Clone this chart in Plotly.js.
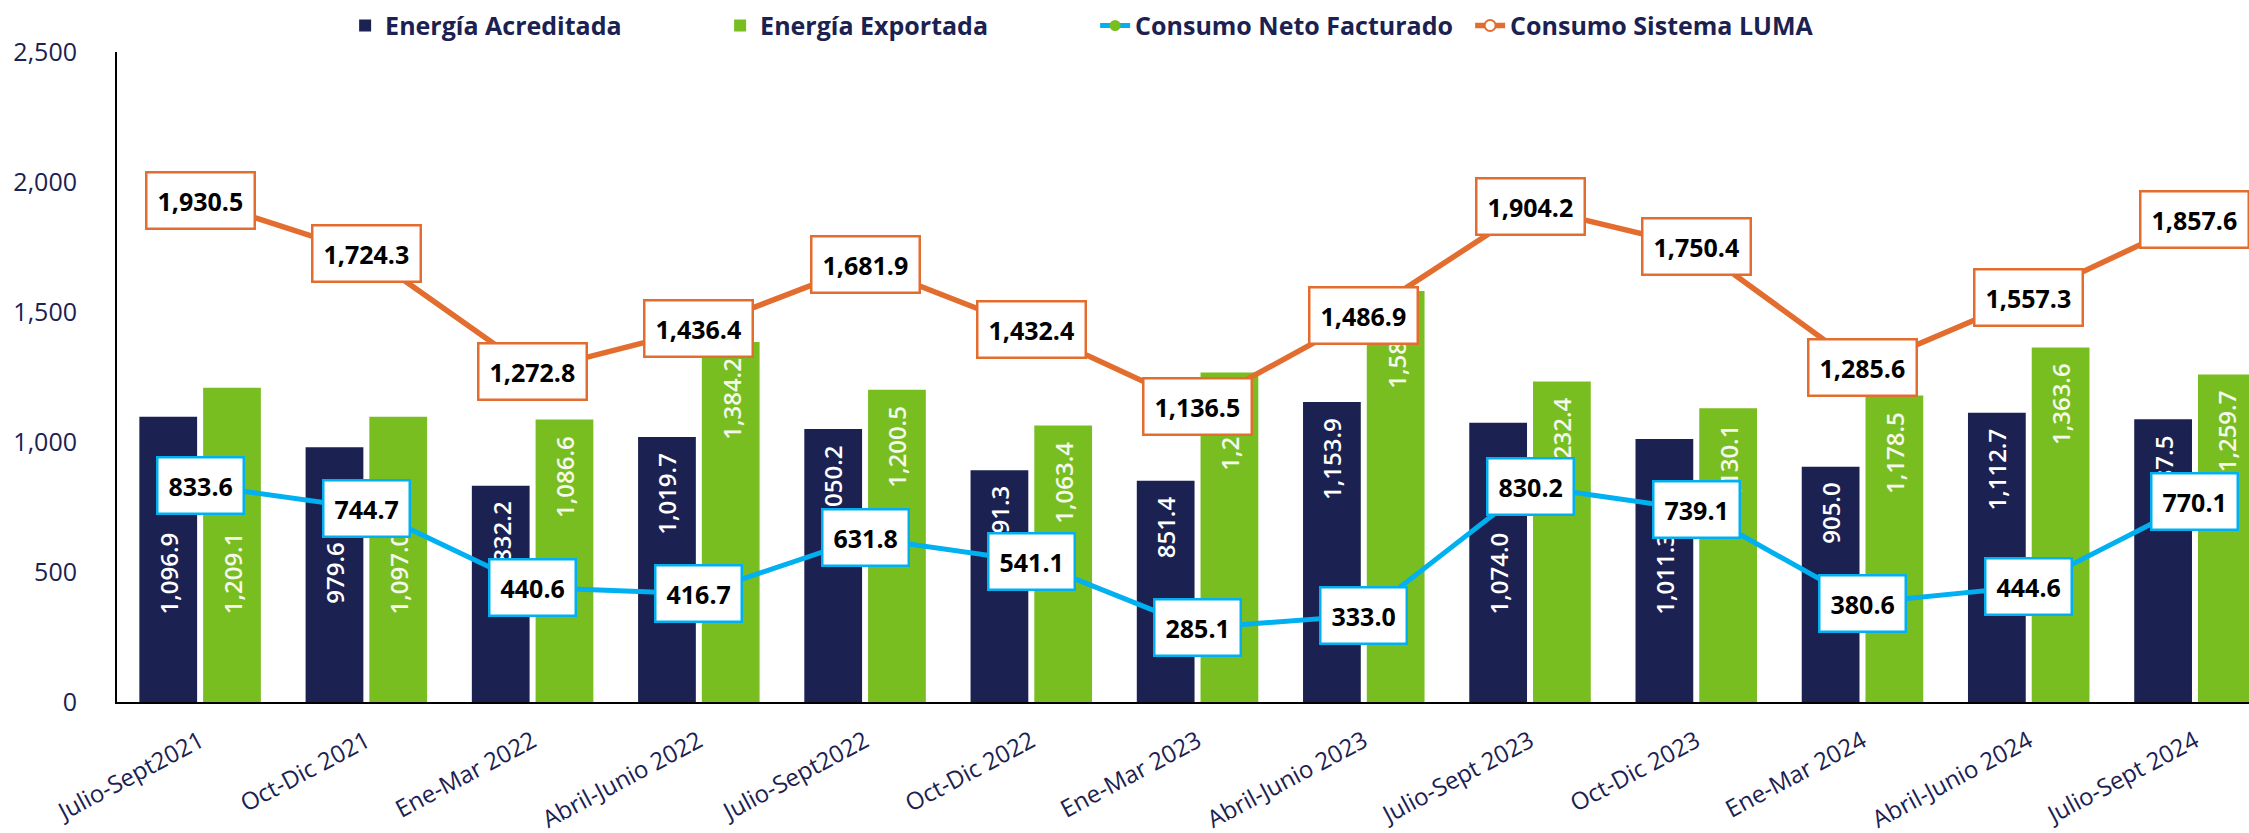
<!DOCTYPE html>
<html><head><meta charset="utf-8">
<script src="https://cdn.plot.ly/plotly-3.0.1.min.js"></script>
<style>html,body{margin:0;padding:0;background:#fff}#chart{width:2249px;height:833px}</style>
</head><body><div id="chart"></div>
<script>
const categories = ['Julio-Sept2021','Oct-Dic 2021','Ene-Mar 2022','Abril-Junio 2022','Julio-Sept2022','Oct-Dic 2022','Ene-Mar 2023','Abril-Junio 2023','Julio-Sept 2023','Oct-Dic 2023','Ene-Mar 2024','Abril-Junio 2024','Julio-Sept 2024'];
const energiaAcreditada = [1096.9, 979.6, 832.2, 1019.7, 1050.2, 891.3, 851.4, 1153.9, 1074.0, 1011.3, 905.0, 1112.7, 1087.5];
const energiaExportada = [1209.1, 1097.0, 1086.6, 1384.2, 1200.5, 1063.4, 1267.6, 1580.4, 1232.4, 1130.1, 1178.5, 1363.6, 1259.7];
const consumoNetoFacturado = [833.6, 744.7, 440.6, 416.7, 631.8, 541.1, 285.1, 333.0, 830.2, 739.1, 380.6, 444.6, 770.1];
const consumoSistemaLuma = [1930.5, 1724.3, 1272.8, 1436.4, 1681.9, 1432.4, 1136.5, 1486.9, 1904.2, 1750.4, 1285.6, 1557.3, 1857.6];
const yTicks = [0, 500, 1000, 1500, 2000, 2500];

// styling
const NAVY = '#1B2150', GREEN = '#78BE20', BLUE = '#00B0F0', ORANGE = '#E26D2E';
const FONT = 'Open Sans, Noto Sans, sans-serif';
const BARGAP = 0.233, BARGROUPGAP = 0.094;
// labels that were moved lower inside their bars (index lists) and the level they sit at
const lowLabelsAcreditada = [0, 1, 8, 9];
const lowLabelsExportada = [0, 1];
const lowLabelLevel = 495;

const fmt = v => v.toLocaleString('en-US', {minimumFractionDigits: 1, maximumFractionDigits: 1});
const slotOffset = (1 - BARGAP) / 4;

const traces = [
  {type: 'bar', name: 'Energía Acreditada', x: categories, y: energiaAcreditada,
   marker: {color: NAVY}, hoverinfo: 'none'},
  {type: 'bar', name: 'Energía Exportada', x: categories, y: energiaExportada,
   marker: {color: GREEN}, hoverinfo: 'none'},
  {type: 'scatter', mode: 'lines+markers', name: 'Consumo Neto Facturado', x: categories, y: consumoNetoFacturado,
   line: {color: BLUE, width: 5}, marker: {color: GREEN, size: 11}, hoverinfo: 'none'},
  {type: 'scatter', mode: 'lines+markers', name: 'Consumo Sistema LUMA', x: categories, y: consumoSistemaLuma,
   line: {color: ORANGE, width: 5.5}, marker: {color: '#FFFFFF', size: 11, line: {color: ORANGE, width: 2}}, hoverinfo: 'none'}
];

const annotations = [];
function barLabels(values, sign, color, lowList) {
  values.forEach((v, i) => {
    const low = lowList.includes(i);
    annotations.push({
      x: i + sign * slotOffset, y: low ? lowLabelLevel : v, xref: 'x', yref: 'y',
      text: fmt(v), showarrow: false, textangle: -90,
      yanchor: low ? 'middle' : 'top', yshift: low ? 0 : -14,
      font: {family: FONT, size: 24, color: color, weight: 600}
    });
  });
}
barLabels(energiaAcreditada, -1, '#FFFFFF', lowLabelsAcreditada);
barLabels(energiaExportada, 1, '#F4F9EC', lowLabelsExportada);
function lineLabels(values, border) {
  values.forEach((v, i) => {
    annotations.push({
      x: i, y: v, xref: 'x', yref: 'y', text: fmt(v), showarrow: false,
      bgcolor: '#FFFFFF', bordercolor: border, borderwidth: 2.5, borderpad: 10,
      font: {family: FONT, size: 25, color: '#000000', weight: 700}
    });
  });
}
lineLabels(consumoNetoFacturado, BLUE);
lineLabels(consumoSistemaLuma, ORANGE);

const layout = {
  width: 2249, height: 833,
  margin: {l: 117, r: 0, t: 52, b: 131},
  paper_bgcolor: '#FFFFFF', plot_bgcolor: '#FFFFFF',
  barmode: 'group', bargap: BARGAP, bargroupgap: BARGROUPGAP,
  showlegend: true,
  legend: {orientation: 'h', x: 0.107, xanchor: 'left', y: 1.005, yanchor: 'bottom',
           font: {family: FONT, size: 25, color: NAVY, weight: 700}, entrywidth: 330, traceorder: 'normal'},
  xaxis: {type: 'category', range: [-0.5, 12.325], tickangle: -28, showgrid: false, zeroline: false,
          showline: true, linecolor: '#000000', linewidth: 2, ticks: '', ticklabelstandoff: 14,
          tickfont: {family: FONT, size: 24, color: NAVY}},
  yaxis: {range: [0, 2500], tickvals: yTicks, tickformat: ',', showgrid: false, zeroline: false,
          showline: true, linecolor: '#000000', linewidth: 2, ticks: '', ticklabelstandoff: 33,
          tickfont: {family: FONT, size: 25, color: NAVY}},
  annotations: annotations
};
Plotly.newPlot('chart', traces, layout, {displayModeBar: false, staticPlot: true});
</script></body></html>
